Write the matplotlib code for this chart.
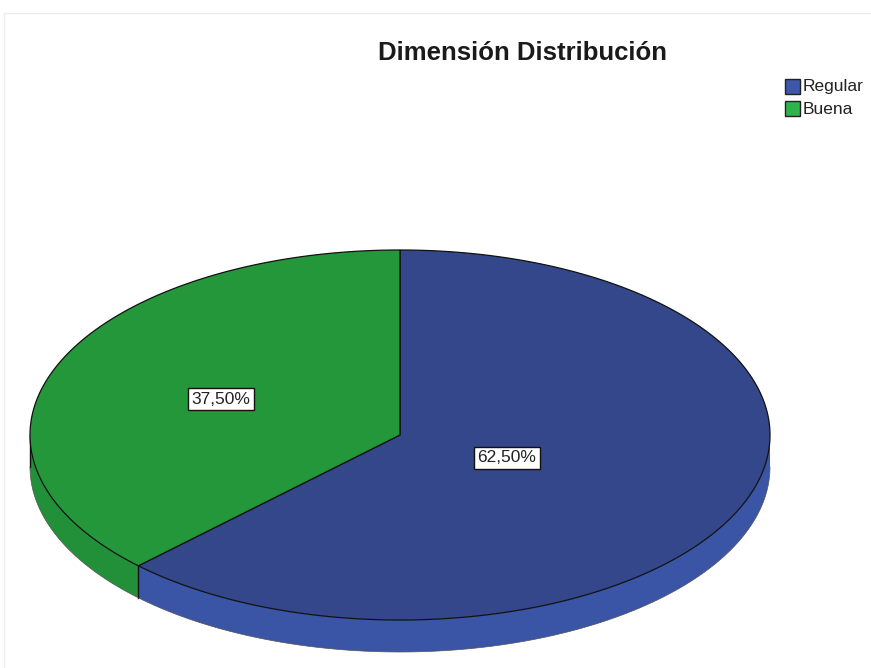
import numpy as np
import matplotlib
matplotlib.use("Agg")
import matplotlib.pyplot as plt
from matplotlib.patches import Polygon, Rectangle

# datos
categorias = ["Regular", "Buena"]
porcentajes = [62.5, 37.5]
etiquetas = ["62,50%", "37,50%"]
colores_top = ["#33478a", "#24973b"]
colores_lado = ["#3a54a6", "#229038"]
colores_leyenda = ["#3e57ab", "#2cb44a"]

W, H = 871, 668
fig = plt.figure(figsize=(W / 100, H / 100), dpi=100)
ax = fig.add_axes([0, 0, 1, 1])
ax.set_xlim(0, W)
ax.set_ylim(H, 0)
ax.axis("off")

# marco gris claro
ax.add_patch(Rectangle((3.5, 12.5), W, H, fill=False, ec="#ececec", lw=1))

cx, cy, rx, ry, prof = 400, 435, 370, 185, 32

def punto(t):
    r = np.radians(t)
    return cx + rx * np.cos(r), cy - ry * np.sin(r)

# angulos de cada sector (sentido horario desde las 12, Regular primero)
inicio = 90.0
sectores = []
for p in porcentajes:
    fin = inicio - p / 100 * 360
    sectores.append((fin, inicio))
    inicio = fin

#lado visible (mitad frontal: 180..360)
for i, (a, b) in enumerate(sectores):
    lo, hi = a % 360, b % 360
    if hi <= lo:
        hi += 360
    for s0, s1 in [(180, 360), (540, 720)]:
        t0, t1 = max(lo, s0), min(hi, s1)
        if t1 > t0:
            ts = np.linspace(t0, t1, 120)
            xs, ys = punto(ts)
            pts = np.column_stack([np.r_[xs, xs[::-1]], np.r_[ys, ys[::-1] + prof]])
            ax.add_patch(Polygon(pts, closed=True, fc=colores_lado[i], ec="none", zorder=1))
            # linea de corte vertical
            ax.plot([xs[0], xs[0]], [ys[0], ys[0] + prof], color="#111111", lw=1, zorder=2)
# contorno inferior
ts = np.linspace(180, 360, 300)
xs, ys = punto(ts)
ax.plot(xs, ys + prof, color="#555555", lw=0.5, zorder=2)

# cara superior
for i, (a, b) in enumerate(sectores):
    ts = np.linspace(a, b, 300)
    xs, ys = punto(ts)
    pts = np.column_stack([np.r_[cx, xs], np.r_[cy, ys]])
    ax.add_patch(Polygon(pts, closed=True, fc=colores_top[i], ec="#111111", lw=0.9, zorder=3))

# etiquetas
pos_etq = [(507, 458), (221, 399)]
for (x, y), e in zip(pos_etq, etiquetas):
    ax.text(x, y, e, ha="center", va="center", fontsize=12.5, family="Liberation Sans",
            color="#222222", zorder=5,
            bbox=dict(boxstyle="square,pad=0.22", fc="white", ec="#111111", lw=1))

# titulo
ax.text(522, 53, "Dimensión Distribución", ha="center", va="center", fontsize=18.5,
        fontweight="bold", family="Liberation Sans", color="#1a1a1a")

# leyenda
for i, c in enumerate(categorias):
    y = 86 + i * 22
    ax.add_patch(Rectangle((785, y - 7.5), 15, 15, fc=colores_leyenda[i], ec="#222222", lw=1, zorder=4))
    ax.text(803, y + 1, c, ha="left", va="center", fontsize=12.5, family="Liberation Sans", color="#222222")

fig.savefig("out.png", dpi=100)
